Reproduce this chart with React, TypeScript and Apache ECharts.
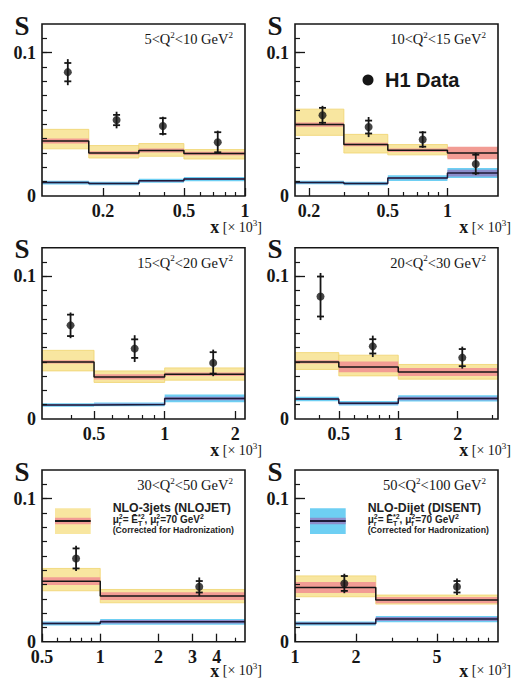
import React, { useEffect, useRef } from 'react';
import * as echarts from 'echarts';

// ---------------- data ----------------
const q2Low = [5, 10, 15, 20, 30, 50];
const q2High = [10, 15, 20, 30, 50, 100];
const xMin = [0.1, 0.17, 0.3, 0.3, 0.5, 1];
const xMax = [1, 1.8, 2.2, 3.2, 5.6, 10];
const xMajorTicks = [[0.2, 0.5, 1], [0.2, 0.5, 1], [0.5, 1, 2], [0.5, 1, 2], [0.5, 1, 2, 3, 4], [1, 2, 5]];
const xMinorTicks = [
  [0.3, 0.4, 0.6, 0.7, 0.8, 0.9],
  [0.3, 0.4, 0.6, 0.7, 0.8, 0.9],
  [0.4, 0.6, 0.7, 0.8, 0.9],
  [0.4, 0.6, 0.7, 0.8, 0.9, 3],
  [0.6, 0.7, 0.8, 0.9, 5],
  [3, 4, 6, 7, 8, 9],
];
const yLabelValues = [0, 0.1];
const yMinorTicks = [0.01, 0.02, 0.03, 0.04, 0.05, 0.06, 0.07, 0.08, 0.09, 0.1, 0.11];
const yMajorTick = [0.1];

const binEdges = [
  [0.1, 0.17, 0.3, 0.5, 1],
  [0.17, 0.3, 0.5, 1, 1.8],
  [0.3, 0.5, 1, 2.2],
  [0.3, 0.5, 1, 3.2],
  [0.5, 1, 5.6],
  [1, 2.5, 10],
];
const nloCentral = [
  [0.0384, 0.030, 0.0317, 0.0296],
  [0.0498, 0.0359, 0.0319, 0.030],
  [0.040, 0.0295, 0.0314],
  [0.040, 0.0365, 0.033],
  [0.0423, 0.0319],
  [0.0379, 0.0291],
];
const nloScaleHigh = [
  [0.0465, 0.0352, 0.0366, 0.0324],
  [0.0606, 0.043, 0.0359, 0.0335],
  [0.0481, 0.0337, 0.0358],
  [0.0465, 0.0447, 0.0382],
  [0.0512, 0.0365],
  [0.046, 0.0326],
];
const nloScaleLow = [
  [0.0329, 0.0265, 0.0277, 0.0258],
  [0.0423, 0.030, 0.0287, 0.0268],
  [0.0337, 0.0256, 0.0272],
  [0.0347, 0.0302, 0.0279],
  [0.0356, 0.0272],
  [0.0314, 0.0263],
];
const nloInnerErr = [
  [0.0018, 0.0012, 0.0014, 0.0012],
  [0.0015, 0.0012, 0.0012, 0.0044],
  [0.0012, 0.0018, 0.0012],
  [0.0012, 0.0038, 0.0028],
  [0.0027, 0.0027],
  [0.0038, 0.0022],
];
const dijetCentral = [
  [0.0094, 0.0087, 0.0106, 0.0118],
  [0.0094, 0.0087, 0.0125, 0.016],
  [0.0098, 0.0102, 0.0144],
  [0.014, 0.011, 0.0144],
  [0.0128, 0.0139],
  [0.0128, 0.0158],
];
const dijetOuterErr = [
  [0.0013, 0.0012, 0.0014, 0.0015],
  [0.0012, 0.0012, 0.002, 0.0035],
  [0.0013, 0.0013, 0.0027],
  [0.0016, 0.0016, 0.0022],
  [0.0014, 0.002],
  [0.0014, 0.0022],
];
const dijetInnerErr = [
  [0.0005, 0.0005, 0.0006, 0.0007],
  [0.0005, 0.0005, 0.0008, 0.0024],
  [0.0005, 0.0006, 0.0012],
  [0.0007, 0.0008, 0.0012],
  [0.0006, 0.0012],
  [0.0006, 0.0014],
];
const dataX = [
  [0.134, 0.233, 0.394, 0.734],
  [0.234, 0.40, 0.75, 1.39],
  [0.397, 0.745, 1.61],
  [0.404, 0.743, 2.11],
  [0.75, 3.25],
  [1.75, 6.28],
];
const dataS = [
  [0.0864, 0.053, 0.0488, 0.0375],
  [0.0563, 0.0481, 0.0394, 0.0223],
  [0.0656, 0.0493, 0.0393],
  [0.0858, 0.0509, 0.043],
  [0.0582, 0.0384],
  [0.0407, 0.0384],
];
const dataStat = [
  [0.0064, 0.0036, 0.0055, 0.007],
  [0.0052, 0.0045, 0.005, 0.0065],
  [0.0075, 0.0065, 0.0075],
  [0.014, 0.005, 0.006],
  [0.007, 0.004],
  [0.0052, 0.004],
];
const dataTotal = [
  [0.0091, 0.0058, 0.0065, 0.0081],
  [0.0066, 0.007, 0.0058, 0.0077],
  [0.009, 0.0094, 0.0093],
  [0.0165, 0.0075, 0.0077],
  [0.0088, 0.0065],
  [0.0068, 0.0058],
];

// ---------------- styling / layout ----------------
const C_YELLOW = '#F8E6A0';
const C_YELLOW_EDGE = '#F0D46E';
const C_RED = '#F29C94';
const C_CYAN = '#6ECFF3';
const C_PURPLE = '#8C8DCB';
const C_BLACK = '#161616';
const C_NAVY = '#1E1B3A';
const SERIF = '"Liberation Serif", "DejaVu Serif", serif';
const SANS = '"Liberation Sans", Arial, sans-serif';

const PLOT_W = 203;
const colLeft = [42, 295];
const colTitleOffset = [17, 13];
const rowTop = [24, 247.7, 470];
const rowH = [172, 171.3, 171.7];
const rowTitleOffset = [31, 31, 29];
const Y_MAX = 0.12;

const lg = (v: number) => Math.log10(v);

function bandSeries(data: number[][], color: string, stroke: string | null, xi: number, yi: number, z: number) {
  return {
    type: 'custom',
    xAxisIndex: xi,
    yAxisIndex: yi,
    z,
    silent: true,
    clip: true,
    encode: { x: [0, 1], y: [2, 3] },
    data,
    renderItem: (_p: any, api: any) => {
      const a = api.coord([api.value(0), api.value(3)]);
      const b = api.coord([api.value(1), api.value(2)]);
      return {
        type: 'rect',
        shape: { x: a[0], y: a[1], width: b[0] - a[0], height: b[1] - a[1] },
        style: stroke ? { fill: color, stroke, lineWidth: 0.8 } : { fill: color },
      };
    },
  };
}

function stepData(edges: number[], vals: number[]) {
  const d: number[][] = vals.map((v, k) => [lg(edges[k]), v]);
  d.push([lg(edges[edges.length - 1]), vals[vals.length - 1]]);
  return d;
}

function buildOption() {
  const grid: any[] = [];
  const xAxis: any[] = [];
  const yAxis: any[] = [];
  const series: any[] = [];
  const graphic: any[] = [];

  for (let i = 0; i < 6; i++) {
    const c = i % 2;
    const r = Math.floor(i / 2);
    const left = colLeft[c];
    const top = rowTop[r];
    const h = rowH[r];
    grid.push({
      left, top, width: PLOT_W, height: h, show: true, z: 10,
      borderColor: C_BLACK, borderWidth: 1.6, backgroundColor: 'rgba(0,0,0,0)',
    });
    const xmin = lg(xMin[i]);
    const xmax = lg(xMax[i]);
    // major x axis (labels + long ticks)
    xAxis.push({
      type: 'value', gridIndex: i, min: xmin, max: xmax, position: 'bottom', z: 10,
      axisLine: { show: false, onZero: false },
      splitLine: { show: false },
      axisTick: { show: true, inside: true, length: 8, customValues: xMajorTicks[i].map(lg), lineStyle: { color: C_BLACK, width: 1.3 } },
      axisLabel: {
        show: true, customValues: xMajorTicks[i].map(lg), margin: 6, hideOverlap: false,
        showMinLabel: true, showMaxLabel: true,
        fontFamily: SERIF, fontWeight: 'bold', fontSize: 18, color: C_BLACK,
        formatter: (v: number) => String(Math.round(Math.pow(10, v) * 100) / 100),
      },
    });
    // minor x axis
    xAxis.push({
      type: 'value', gridIndex: i, min: xmin, max: xmax, position: 'bottom', z: 10,
      axisLine: { show: false, onZero: false },
      splitLine: { show: false },
      axisLabel: { show: false },
      axisTick: { show: true, inside: true, length: 4, customValues: xMinorTicks[i].map(lg), lineStyle: { color: C_BLACK, width: 1.2 } },
    });
    yAxis.push({
      type: 'value', gridIndex: i, min: 0, max: Y_MAX, position: 'left', z: 10,
      axisLine: { show: false, onZero: false },
      splitLine: { show: false },
      axisTick: { show: true, inside: true, length: 5, customValues: yMinorTicks, lineStyle: { color: C_BLACK, width: 1.2 } },
      axisLabel: {
        show: true, customValues: yLabelValues, margin: 6, showMinLabel: true, showMaxLabel: true,
        fontFamily: SERIF, fontWeight: 'bold', fontSize: 18, color: C_BLACK,
        formatter: (v: number) => String(v),
      },
    });
    yAxis.push({
      type: 'value', gridIndex: i, min: 0, max: Y_MAX, position: 'left', z: 10,
      axisLine: { show: false, onZero: false },
      splitLine: { show: false },
      axisLabel: { show: false },
      axisTick: { show: true, inside: true, length: 10, customValues: yMajorTick, lineStyle: { color: C_BLACK, width: 1.3 } },
    });

    const xi = 2 * i;
    const yi = 2 * i;
    const edges = binEdges[i];
    const yellow: number[][] = [];
    const red: number[][] = [];
    const cyan: number[][] = [];
    const purple: number[][] = [];
    for (let k = 0; k < edges.length - 1; k++) {
      const a = lg(edges[k]);
      const b = lg(edges[k + 1]);
      yellow.push([a, b, nloScaleLow[i][k], nloScaleHigh[i][k]]);
      red.push([a, b, nloCentral[i][k] - nloInnerErr[i][k], nloCentral[i][k] + nloInnerErr[i][k]]);
      cyan.push([a, b, dijetCentral[i][k] - dijetOuterErr[i][k], dijetCentral[i][k] + dijetOuterErr[i][k]]);
      purple.push([a, b, dijetCentral[i][k] - dijetInnerErr[i][k], dijetCentral[i][k] + dijetInnerErr[i][k]]);
    }
    series.push(bandSeries(yellow, C_YELLOW, C_YELLOW_EDGE, xi, yi, 2));
    series.push(bandSeries(red, C_RED, null, xi, yi, 3));
    series.push(bandSeries(cyan, C_CYAN, null, xi, yi, 2));
    series.push(bandSeries(purple, C_PURPLE, null, xi, yi, 3));
    series.push({
      type: 'line', xAxisIndex: xi, yAxisIndex: yi, step: 'end', symbol: 'none', showSymbol: false,
      silent: true, z: 4, data: stepData(edges, nloCentral[i]),
      lineStyle: { color: C_BLACK, width: 1.5 },
    });
    series.push({
      type: 'line', xAxisIndex: xi, yAxisIndex: yi, step: 'end', symbol: 'none', showSymbol: false,
      silent: true, z: 4, data: stepData(edges, dijetCentral[i]),
      lineStyle: { color: C_NAVY, width: 1.5 },
    });
    const pts = dataX[i].map((x, k) => [lg(x), dataS[i][k], dataStat[i][k], dataTotal[i][k]]);
    series.push({
      type: 'custom', xAxisIndex: xi, yAxisIndex: yi, z: 5, silent: true,
      encode: { x: 0, y: 1 },
      data: pts,
      renderItem: (_p: any, api: any) => {
        const x = api.value(0);
        const y = api.value(1);
        const s = api.value(2);
        const t = api.value(3);
        const top = api.coord([x, y + t]);
        const bot = api.coord([x, y - t]);
        const st = api.coord([x, y + s]);
        const sb = api.coord([x, y - s]);
        const hw = 3.5;
        const style = { stroke: C_BLACK, lineWidth: 1.8 };
        return {
          type: 'group',
          children: [
            { type: 'line', shape: { x1: top[0], y1: top[1], x2: bot[0], y2: bot[1] }, style },
            { type: 'line', shape: { x1: st[0] - hw, y1: st[1], x2: st[0] + hw, y2: st[1] }, style },
            { type: 'line', shape: { x1: sb[0] - hw, y1: sb[1], x2: sb[0] + hw, y2: sb[1] }, style },
          ],
        };
      },
    });
    series.push({
      type: 'scatter', name: 'H1 Data', xAxisIndex: xi, yAxisIndex: yi, z: 6, silent: true,
      symbol: 'circle', symbolSize: 8, itemStyle: { color: C_BLACK },
      data: pts.map((p) => [p[0], p[1]]),
    });

    // Q2 range label
    graphic.push({
      type: 'text', x: left + PLOT_W - 12, y: top + 15, z: 20,
      style: {
        text: `{b|${q2Low[i]}<Q}{s|2}{b|<${q2High[i]} GeV}{s|2}`,
        textAlign: 'right', textVerticalAlign: 'middle',
        fill: C_BLACK,
        rich: {
          b: { fontFamily: SERIF, fontSize: 14.5, lineHeight: 18, fill: C_BLACK },
          s: { fontFamily: SERIF, fontSize: 9, lineHeight: 10, verticalAlign: 'top', fill: C_BLACK },
        },
      },
    });
    // y axis title
    graphic.push({
      type: 'text', x: left - 20, y: top + 1.5, z: 20,
      style: {
        text: 'S', fontFamily: SERIF, fontWeight: 'bold', fontSize: 27, fill: C_BLACK,
        textAlign: 'center', textVerticalAlign: 'middle',
      },
    });
    // x axis title
    graphic.push({
      type: 'text', x: left + PLOT_W + colTitleOffset[c], y: top + h + rowTitleOffset[r], z: 20,
      style: {
        text: '{x|x}{n| [× 10}{s|3}{n|]}',
        textAlign: 'right', textVerticalAlign: 'middle',
        fill: C_BLACK,
        rich: {
          x: { fontFamily: SERIF, fontWeight: 'bold', fontSize: 18, lineHeight: 18, fill: C_BLACK },
          n: { fontFamily: SERIF, fontSize: 14, lineHeight: 18, fill: C_BLACK },
          s: { fontFamily: SERIF, fontSize: 9, lineHeight: 10, verticalAlign: 'top', fill: C_BLACK },
        },
      },
    });
  }

  // H1 Data legend (panel 2)
  graphic.push({ type: 'circle', z: 20, shape: { cx: 368, cy: 80, r: 5.5 }, style: { fill: C_BLACK } });
  graphic.push({
    type: 'text', x: 385, y: 80, z: 20,
    style: { text: 'H1 Data', fontFamily: SANS, fontWeight: 'bold', fontSize: 20, fill: C_BLACK, textAlign: 'left', textVerticalAlign: 'middle' },
  });

  const legendRich = {
    b: { fontFamily: SANS, fontWeight: 'bold', fontSize: 10, lineHeight: 14, fill: '#222' },
    sp: { fontFamily: SANS, fontWeight: 'bold', fontSize: 7, lineHeight: 8, verticalAlign: 'top', fill: '#222' },
    sb: { fontFamily: SANS, fontWeight: 'bold', fontSize: 7, lineHeight: 8, verticalAlign: 'bottom', width: 0, fill: '#222' },
  };
  const legendItems = [
    { x0: 55, tx: 112.7, outer: C_YELLOW, inner: C_RED, line: C_BLACK, title: 'NLO-3jets (NLOJET)' },
    { x0: 310, tx: 367.7, outer: C_CYAN, inner: C_PURPLE, line: C_NAVY, title: 'NLO-Dijet (DISENT)' },
  ];
  legendItems.forEach((L) => {
    graphic.push({ type: 'rect', z: 20, shape: { x: L.x0, y: 508.3, width: 35.7, height: 25.7 }, style: { fill: L.outer } });
    graphic.push({ type: 'rect', z: 21, shape: { x: L.x0, y: 517.7, width: 35.7, height: 6.6 }, style: { fill: L.inner } });
    graphic.push({ type: 'line', z: 22, shape: { x1: L.x0, y1: 521, x2: L.x0 + 35.7, y2: 521 }, style: { stroke: L.line, lineWidth: 2 } });
    graphic.push({
      type: 'text', x: L.tx, y: 508, z: 20,
      style: { text: L.title, fontFamily: SANS, fontWeight: 'bold', fontSize: 12.3, fill: '#222', textAlign: 'left', textVerticalAlign: 'middle' },
    });
    graphic.push({
      type: 'text', x: L.tx, y: 519.5, z: 20,
      style: {
        text: '{b|μ}{sb|r}{sp|2}{b|= Ē}{sb|T}{sp|*2}{b|, μ}{sb|f}{sp|2}{b|=70 GeV}{sp|2}',
        textAlign: 'left', textVerticalAlign: 'middle', fill: '#222',
        rich: legendRich,
      },
    });
    graphic.push({
      type: 'text', x: L.tx, y: 529.8, z: 20,
      style: { text: '(Corrected for Hadronization)', fontFamily: SANS, fontWeight: 'bold', fontSize: 8.7, fill: '#222', textAlign: 'left', textVerticalAlign: 'middle' },
    });
  });

  return { animation: false, backgroundColor: '#ffffff', grid, xAxis, yAxis, series, graphic };
}

export default function App() {
  const ref = useRef<HTMLDivElement>(null);
  useEffect(() => {
    if (!ref.current) return;
    const chart = echarts.init(ref.current, undefined, { renderer: 'svg' });
    chart.setOption(buildOption() as any);
    return () => chart.dispose();
  }, []);
  return <div ref={ref} style={{ position: 'absolute', left: 0, top: 0, width: 514, height: 678 }} />;
}
